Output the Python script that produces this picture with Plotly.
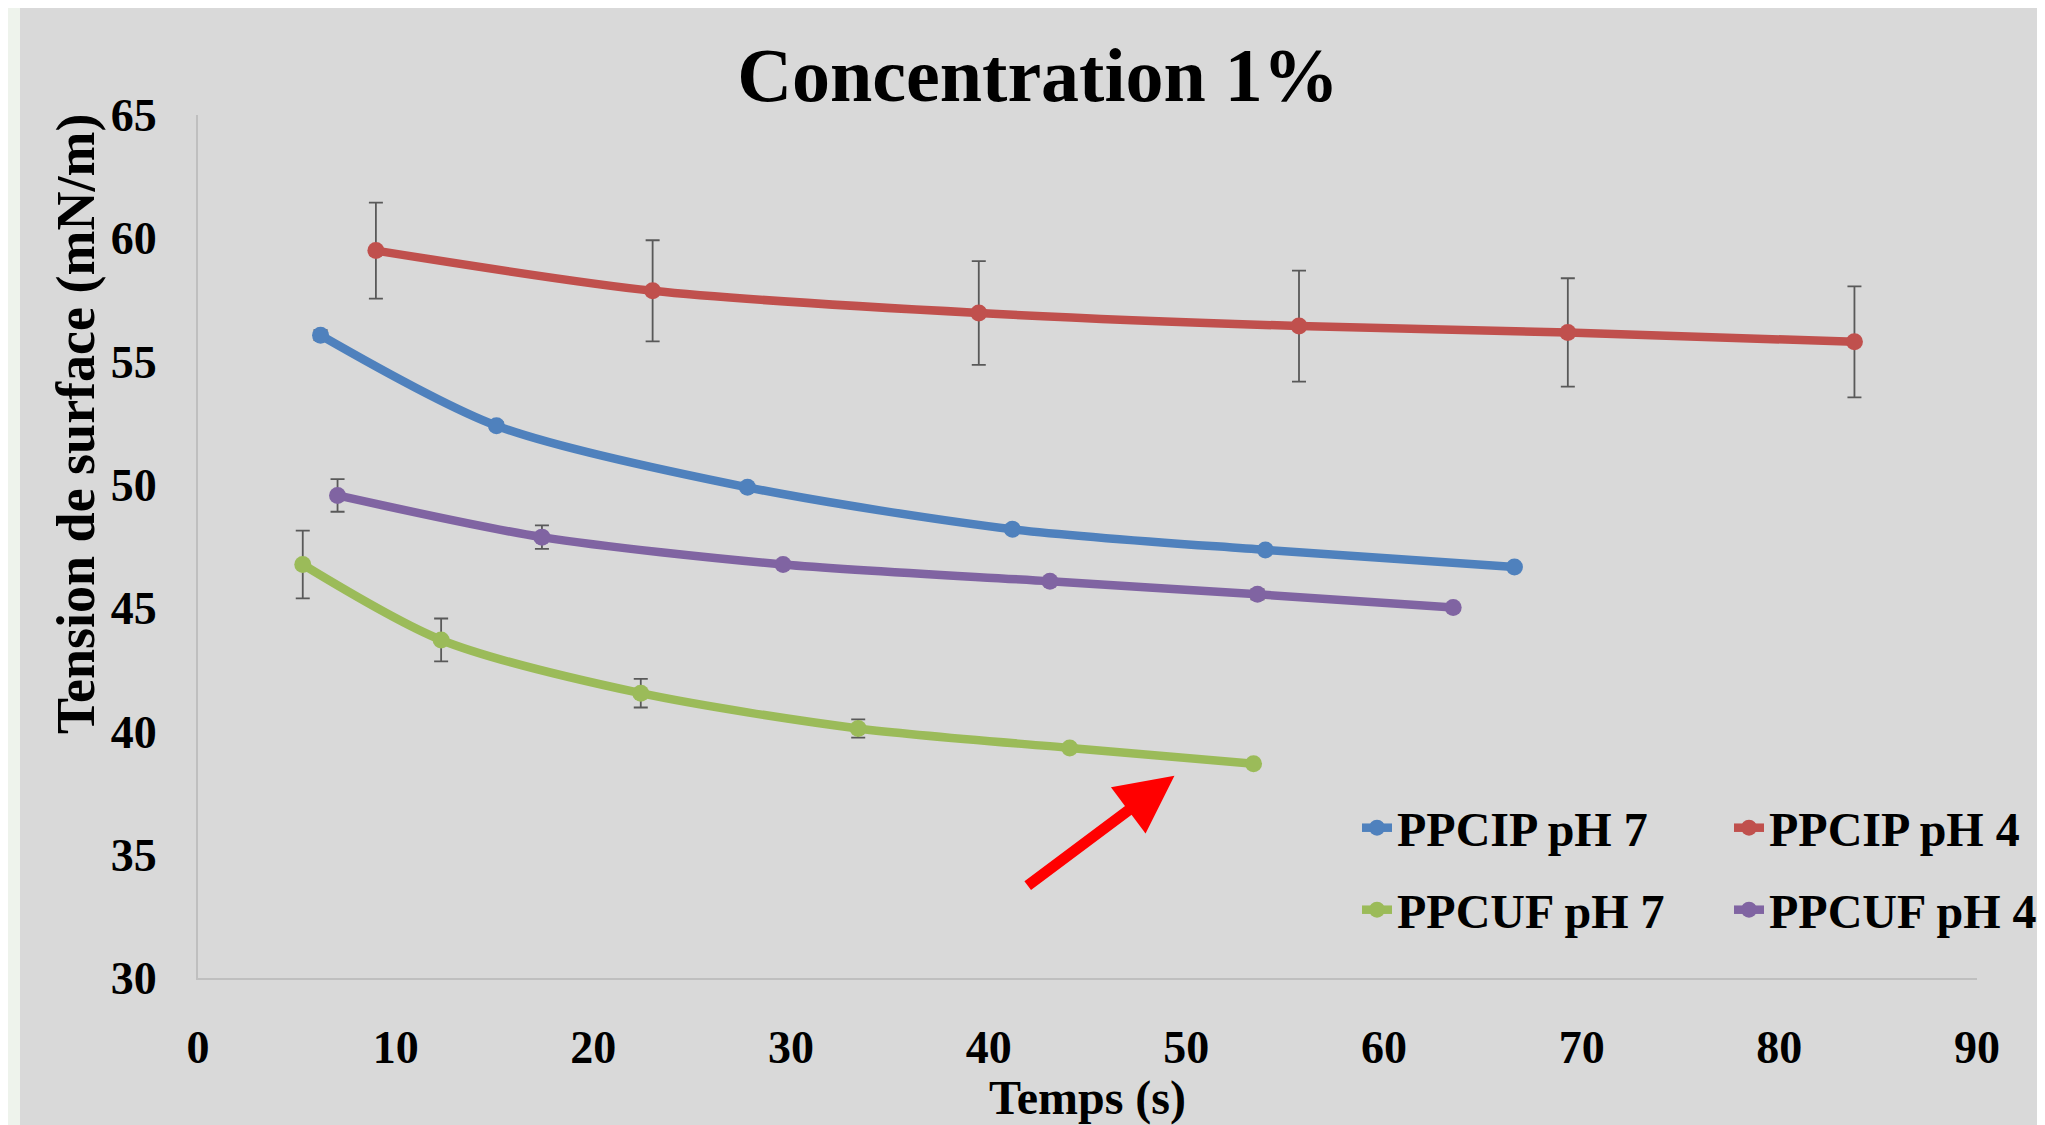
import plotly.graph_objects as go

# ---- data ----
series_names = ["PPCIP pH 7", "PPCIP pH 4", "PPCUF pH 7", "PPCUF pH 4"]
series_colors = ["#4F81BD", "#C0504D", "#9BBB59", "#8064A2"]

ppcip_ph7_t = [6.2, 15.1, 27.8, 41.2, 54.0, 66.6]
ppcip_ph7_y = [56.07, 52.4, 49.9, 48.2, 47.36, 46.67]
ppcip_ph7_err = [0.2, 0.15, 0.05, 0.15, 0.05, 0.0]

ppcip_ph4_t = [9.0, 23.0, 39.5, 55.7, 69.3, 83.8]
ppcip_ph4_y = [59.5, 57.87, 56.97, 56.44, 56.18, 55.8]
ppcip_ph4_err = [1.95, 2.05, 2.1, 2.25, 2.2, 2.25]

ppcuf_ph7_t = [5.3, 12.3, 22.4, 33.4, 44.1, 53.4]
ppcuf_ph7_y = [46.77, 43.71, 41.55, 40.12, 39.33, 38.69]
ppcuf_ph7_err = [1.37, 0.87, 0.58, 0.37, 0.05, 0.1]

ppcuf_ph4_t = [7.06, 17.4, 29.6, 43.1, 53.6, 63.5]
ppcuf_ph4_y = [49.57, 47.88, 46.77, 46.09, 45.56, 45.03]
ppcuf_ph4_err = [0.66, 0.48, 0.15, 0.1, 0.2, 0.0]

x_ticks = [0, 10, 20, 30, 40, 50, 60, 70, 80, 90]
y_ticks = [30, 35, 40, 45, 50, 55, 60, 65]

title_text = "Concentration 1%"
x_title = "Temps (s)"
y_title = "Tension de surface (mN/m)"

# arrow (data coords): head and tail
arrow_head = (49.4, 38.2)
arrow_tail = (41.9, 33.7)

# ---- layout geometry ----
# the page body adds an 8 px margin, so the figure is 8 px smaller and
# every target position (given in window pixels) is shifted by 8.
OFF = 8
W, H = 2045 - OFF, 1125 - OFF
PLOT_L, PLOT_R, PLOT_T, PLOT_B = 198, 1977, 115, 978  # window pixels
ML, MT = PLOT_L - OFF, PLOT_T - OFF
MR, MB = W - (PLOT_R - OFF), H - (PLOT_B - OFF)
PW, PH = W - ML - MR, H - MT - MB
FONT = "Liberation Serif"


def px_x(p):
    return (p - OFF - ML) / PW


def px_y(p):
    return (H - MB - (p - OFF)) / PH


all_series = [
    (ppcip_ph7_t, ppcip_ph7_y, ppcip_ph7_err, "legend"),
    (ppcip_ph4_t, ppcip_ph4_y, ppcip_ph4_err, "legend"),
    (ppcuf_ph7_t, ppcuf_ph7_y, ppcuf_ph7_err, "legend2"),
    (ppcuf_ph4_t, ppcuf_ph4_y, ppcuf_ph4_err, "legend2"),
]

fig = go.Figure()
for (t, y, e, lg), name, col in zip(all_series, series_names, series_colors):
    fig.add_trace(go.Scatter(
        x=t, y=y, name=name, mode="lines+markers", legend=lg,
        line=dict(color=col, width=8.5, shape="spline", smoothing=0.8),
        marker=dict(color=col, size=17, symbol="circle"),
        error_y=dict(type="data", array=e, visible=True, color="#595959",
                     thickness=1.8, width=7),
    ))

shapes = [
    dict(type="rect", xref="paper", yref="paper", layer="below",
         x0=px_x(OFF), x1=px_x(20), y0=px_y(1125 + 10), y1=px_y(OFF),
         fillcolor="#EEF3EC", line=dict(width=0)),
]

fig.update_layout(
    width=W, height=H,
    margin=dict(l=ML, r=MR, t=MT, b=MB, autoexpand=False),
    paper_bgcolor="#D9D9D9", plot_bgcolor="#D9D9D9",
    font=dict(family=FONT, color="black", size=46, weight="bold"),
    title=dict(text=title_text, x=(1038 - OFF) / W, xanchor="center",
               y=1 - (74 - OFF) / H, yanchor="middle",
               font=dict(family=FONT, size=76, weight="bold", color="black")),
    xaxis=dict(range=[0, 90], tickvals=x_ticks, showgrid=False, zeroline=False,
               showline=True, linecolor="#BFBFBF", linewidth=2, ticks="",
               ticklabelstandoff=28,
               tickfont=dict(family=FONT, size=46, weight="bold"),
               title=dict(text=x_title, standoff=12,
                          font=dict(family=FONT, size=48, weight="bold"))),
    yaxis=dict(range=[30, 65], tickvals=y_ticks, showgrid=False, zeroline=False,
               showline=True, linecolor="#BFBFBF", linewidth=2, ticks="",
               ticklabelstandoff=30,
               tickfont=dict(family=FONT, size=46, weight="bold")),
    legend=dict(orientation="h", x=px_x(1357), xanchor="left",
                y=px_y(828), yanchor="middle", bgcolor="rgba(0,0,0,0)",
                entrywidth=327, entrywidthmode="pixels",
                font=dict(family=FONT, size=48, weight="bold")),
    legend2=dict(orientation="h", x=px_x(1357), xanchor="left",
                 y=px_y(910), yanchor="middle", bgcolor="rgba(0,0,0,0)",
                 entrywidth=327, entrywidthmode="pixels",
                 font=dict(family=FONT, size=48, weight="bold")),
    shapes=shapes,
    showlegend=True,
)

# y-axis title (placed off-centre, as in the reference)
fig.add_annotation(
    text=y_title, textangle=-90, xref="paper", yref="paper",
    x=px_x(76), y=px_y(424), xanchor="center", yanchor="middle",
    showarrow=False, font=dict(family=FONT, size=54, weight="bold", color="black"),
)

fig.add_annotation(
    x=arrow_head[0], y=arrow_head[1], ax=arrow_tail[0], ay=arrow_tail[1],
    xref="x", yref="y", axref="x", ayref="y", text="",
    showarrow=True, arrowhead=2, arrowsize=1.05, arrowwidth=11, arrowcolor="#FF0000",
)

fig.write_html("out.html")
